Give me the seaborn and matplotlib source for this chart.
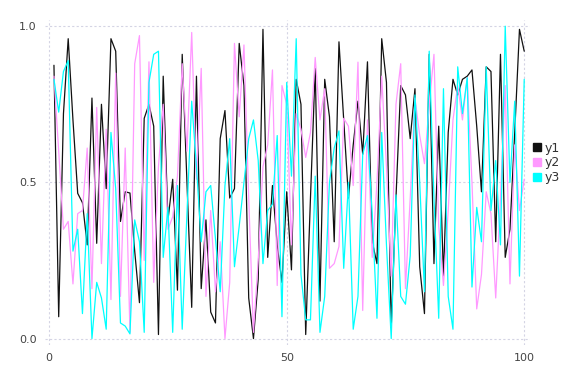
import matplotlib
matplotlib.use("Agg")
import matplotlib.pyplot as plt
from matplotlib.lines import Line2D
import seaborn as sns
import pandas as pd
import numpy as np

x = list(range(1, 101))
y1 = [0.875, 0.07, 0.72, 0.96, 0.70, 0.465, 0.435, 0.30, 0.77, 0.305,
      0.75, 0.48, 0.96, 0.92, 0.375, 0.47, 0.466, 0.28, 0.115, 0.705,
      0.75, 0.68, 0.013, 0.84, 0.38, 0.51, 0.155, 0.91, 0.5, 0.10,
      0.84, 0.16, 0.38, 0.085, 0.05, 0.64, 0.73, 0.45, 0.48, 0.945,
      0.81, 0.13, 0.0, 0.19, 0.99, 0.26, 0.49, 0.3, 0.18, 0.47,
      0.22, 0.83, 0.75, 0.013, 0.45, 0.865, 0.12, 0.83, 0.71, 0.31,
      0.95, 0.7, 0.45, 0.62, 0.76, 0.59, 0.886, 0.31, 0.24, 0.96,
      0.82, 0.035, 0.45, 0.81, 0.78, 0.64, 0.80, 0.23, 0.08, 0.91,
      0.24, 0.68, 0.20, 0.66, 0.83, 0.78, 0.83, 0.84, 0.86, 0.68,
      0.47, 0.87, 0.855, 0.31, 0.91, 0.26, 0.35, 0.66, 0.99, 0.92]
y2 = [0.84, 0.6, 0.35, 0.375, 0.175, 0.40, 0.41, 0.61, 0.16, 0.74,
      0.24, 0.67, 0.125, 0.85, 0.135, 0.61, 0.02, 0.88, 0.97, 0.25,
      0.886, 0.18, 0.55, 0.75, 0.35, 0.39, 0.52, 0.88, 0.6, 0.98,
      0.51, 0.865, 0.135, 0.41, 0.15, 0.31, 0.0, 0.18, 0.945, 0.71,
      0.94, 0.45, 0.02, 0.25, 0.55, 0.62, 0.86, 0.17, 0.81, 0.75,
      0.3, 0.72, 0.67, 0.58, 0.66, 0.90, 0.70, 0.80, 0.225, 0.24,
      0.295, 0.705, 0.68, 0.49, 0.885, 0.09, 0.70, 0.26, 0.5, 0.84,
      0.55, 0.2, 0.75, 0.88, 0.16, 0.45, 0.77, 0.65, 0.56, 0.75,
      0.91, 0.36, 0.17, 0.41, 0.70, 0.81, 0.70, 0.835, 0.5, 0.095,
      0.205, 0.47, 0.40, 0.13, 0.45, 0.81, 0.175, 0.62, 0.41, 0.51]
y3 = [0.83, 0.725, 0.855, 0.89, 0.28, 0.35, 0.08, 0.40, 0.0, 0.18,
      0.13, 0.03, 0.66, 0.48, 0.05, 0.04, 0.015, 0.38, 0.31, 0.02,
      0.82, 0.91, 0.92, 0.26, 0.42, 0.02, 0.49, 0.03, 0.4, 0.76,
      0.55, 0.31, 0.47, 0.49, 0.32, 0.15, 0.49, 0.64, 0.23, 0.36,
      0.5, 0.64, 0.70, 0.57, 0.24, 0.41, 0.43, 0.65, 0.07, 0.82,
      0.52, 0.96, 0.205, 0.06, 0.06, 0.52, 0.02, 0.135, 0.5, 0.61,
      0.665, 0.225, 0.5, 0.03, 0.135, 0.59, 0.65, 0.4, 0.065, 0.66,
      0.3, 0.0, 0.46, 0.135, 0.11, 0.265, 0.78, 0.5, 0.15, 0.92,
      0.45, 0.065, 0.80, 0.135, 0.03, 0.87, 0.72, 0.835, 0.165, 0.42,
      0.31, 0.87, 0.41, 0.57, 0.30, 1.0, 0.50, 0.76, 0.20, 0.83]
series_names = ["y1", "y2", "y3"]
colors = {"y1": "#111111", "y2": "#ff99ff", "y3": "#00ffff"}

df = pd.DataFrame({"x": x * 3,
                   "value": y1 + y2 + y3,
                   "series": sum([[n] * len(x) for n in series_names], [])})

sns.set_style("white")
fig = plt.figure(figsize=(5.76, 3.84), dpi=100)
ax = fig.add_axes([0.078, 0.102, 0.842, 0.846])
sns.lineplot(data=df, x="x", y="value", hue="series", palette=colors,
             linewidth=0.9, ax=ax, legend=False, sort=False)

ax.set_xlim(-0.9, 101.2)
ax.set_ylim(-0.02, 1.02)
ax.set_xticks([0, 50, 100])
ax.set_yticks([0.0, 0.5, 1.0])
ax.set_yticklabels(["0.0", "0.5", "1.0"])
ax.set_xlabel("")
ax.set_ylabel("")
for s in ax.spines.values():
    s.set_visible(False)
ax.grid(True, color="#d4d4e4", linestyle=(0, (2, 2)), linewidth=0.8)
ax.set_axisbelow(True)
ax.tick_params(length=0, labelsize=8, colors="#444444", pad=6)

handles = [Line2D([0], [0], marker="s", linestyle="none", markersize=6,
                  markerfacecolor=colors[n], markeredgecolor=colors[n])
           for n in series_names]
leg = ax.legend(handles, series_names, loc="center left",
                bbox_to_anchor=(1.0, 0.56), frameon=False, fontsize=9,
                handlelength=0.7, handletextpad=0.3, labelspacing=0.15,
                borderaxespad=0.0, borderpad=0.2)
for t in leg.get_texts():
    t.set_color("#333333")

fig.savefig("out.png", dpi=100)
